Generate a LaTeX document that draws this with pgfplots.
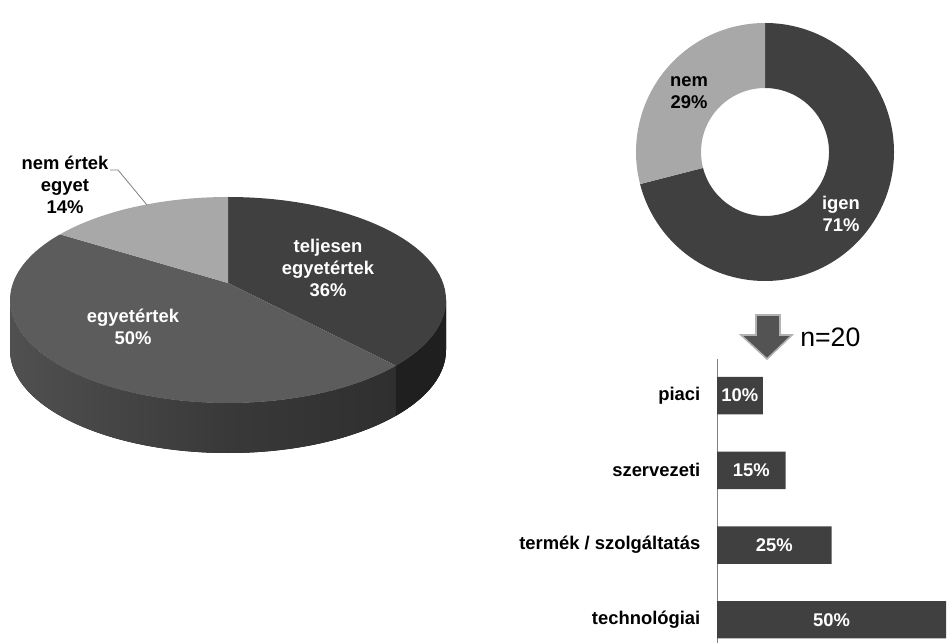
\documentclass[border=0pt]{standalone}
\usepackage{pgfplots}
\pgfplotsset{compat=1.18}
\usepackage{fontspec}
\setmainfont{Liberation Sans}
\definecolor{cA}{HTML}{404040}
\definecolor{cB}{HTML}{5C5C5C}
\definecolor{cC}{HTML}{A8A8A8}
\definecolor{sideL}{HTML}{505050}
\definecolor{sideM}{HTML}{393939}
\definecolor{sideR}{HTML}{2C2C2C}
\definecolor{sideA}{HTML}{1F1F1F}
\definecolor{barc}{HTML}{404040}
\newcommand{\lab}{\fontsize{13.8}{16.5}\selectfont\bfseries}
% pie values (percent)
\def\pTeljesen{36}
\def\pEgyet{50}
\def\pNem{14}
% donut values
\def\pIgen{71}
\def\pNemB{29}
\begin{document}
\begin{tikzpicture}[x=0.75pt,y=0.75pt]
\path[use as bounding box] (0,0) rectangle (952,643);
\coordinate (barNW) at (717,284);
\begin{axis}[at={(0,0)},anchor=origin,x=0.75pt,y=0.75pt,
  xmin=0,xmax=952,ymin=0,ymax=643,hide axis,clip=false]
% ---------- 3D pie ----------
\pgfmathsetmacro\aA{90-3.6*\pTeljesen}
\pgfmathsetmacro\aB{\aA-3.6*\pEgyet}
\pgfmathsetmacro\aC{\aB-3.6*\pNem}
\begin{scope}[shift={(228,343)}]
 \fill[left color=sideL,right color=sideR,middle color=sideM]
   (180:218 and 103) arc[start angle=180,end angle=360,x radius=218,y radius=103]
   -- (218,-50) arc[start angle=0,end angle=-180,x radius=218,y radius=103] -- cycle;
 \fill[sideA]
   (\aA:218 and 103) arc[start angle=\aA,end angle=0,x radius=218,y radius=103]
   -- (218,-50) arc[start angle=0,end angle=\aA,x radius=218,y radius=103] -- cycle;
 \fill[cA] (0,17) -- (90:218 and 103) arc[start angle=90,end angle=\aA,x radius=218,y radius=103] -- cycle;
 \fill[cB] (0,17) -- (\aA:218 and 103) arc[start angle=\aA,end angle=\aB,x radius=218,y radius=103] -- cycle;
 \fill[cC] (0,17) -- (\aB:218 and 103) arc[start angle=\aB,end angle=\aC,x radius=218,y radius=103] -- cycle;
\end{scope}
\node[white,font=\lab,align=center] at (328,375) {teljesen\\egyetértek\\36\%};
\node[white,font=\lab,align=center] at (133,316) {egyetértek\\50\%};
\node[black,font=\lab,align=center] at (65,458) {nem értek\\egyet\\14\%};
\draw[gray,line width=0.6pt] (110,473) -- (118,473) -- (147,438);
% ---------- donut ----------
\pgfmathsetmacro\dA{90-3.6*\pIgen}
\pgfmathsetmacro\dB{\dA-3.6*\pNemB}
\begin{scope}[shift={(765,491)}]
 \fill[cA] (90:129) arc[start angle=90,end angle=\dA,radius=129]
   -- (\dA:64) arc[start angle=\dA,end angle=90,radius=64] -- cycle;
 \fill[cC] (\dA:129) arc[start angle=\dA,end angle=\dB,radius=129]
   -- (\dB:64) arc[start angle=\dB,end angle=\dA,radius=64] -- cycle;
\end{scope}
\node[black,font=\lab,align=center] at (689,550) {nem\\29\%};
\node[white,font=\lab,align=center] at (841,429) {igen\\71\%};
% ---------- arrow ----------
\filldraw[fill=cA!90!white,draw=gray!60,line width=1.2pt]
  (756,328) -- (780,328) -- (780,308) -- (792,308) -- (767,284) -- (741,308) -- (756,308) -- cycle;
\node[anchor=base west,font=\fontsize{20}{22}\selectfont,inner sep=0pt] at (800,296) {n=20};
\end{axis}
% ---------- bar chart ----------
\begin{axis}[at={(barNW)},anchor=north west,
  x=3.435pt,y=56.03pt,y dir=reverse,
  xmin=0,xmax=50,ymin=-0.49,ymax=3.31,
  xbar,bar width=28.1pt,
  axis x line=none,axis y line*=left,
  y axis line style={draw=gray,line width=0.6pt},
  ytick={0,1,2,3},
  yticklabels={piaci,szervezeti,termék / szolgáltatás,technológiai},
  major tick length=0pt,
  yticklabel style={font=\lab,text=black,xshift=-9pt},
  clip=false]
\addplot[fill=barc,draw=none] coordinates {(10,0) (15,1) (25,2) (50,3)};
\node[white,font=\lab] at (axis cs:5,0) {10\%};
\node[white,font=\lab] at (axis cs:7.5,1) {15\%};
\node[white,font=\lab] at (axis cs:12.5,2) {25\%};
\node[white,font=\lab] at (axis cs:25,3) {50\%};
\end{axis}
\end{tikzpicture}
\end{document}
